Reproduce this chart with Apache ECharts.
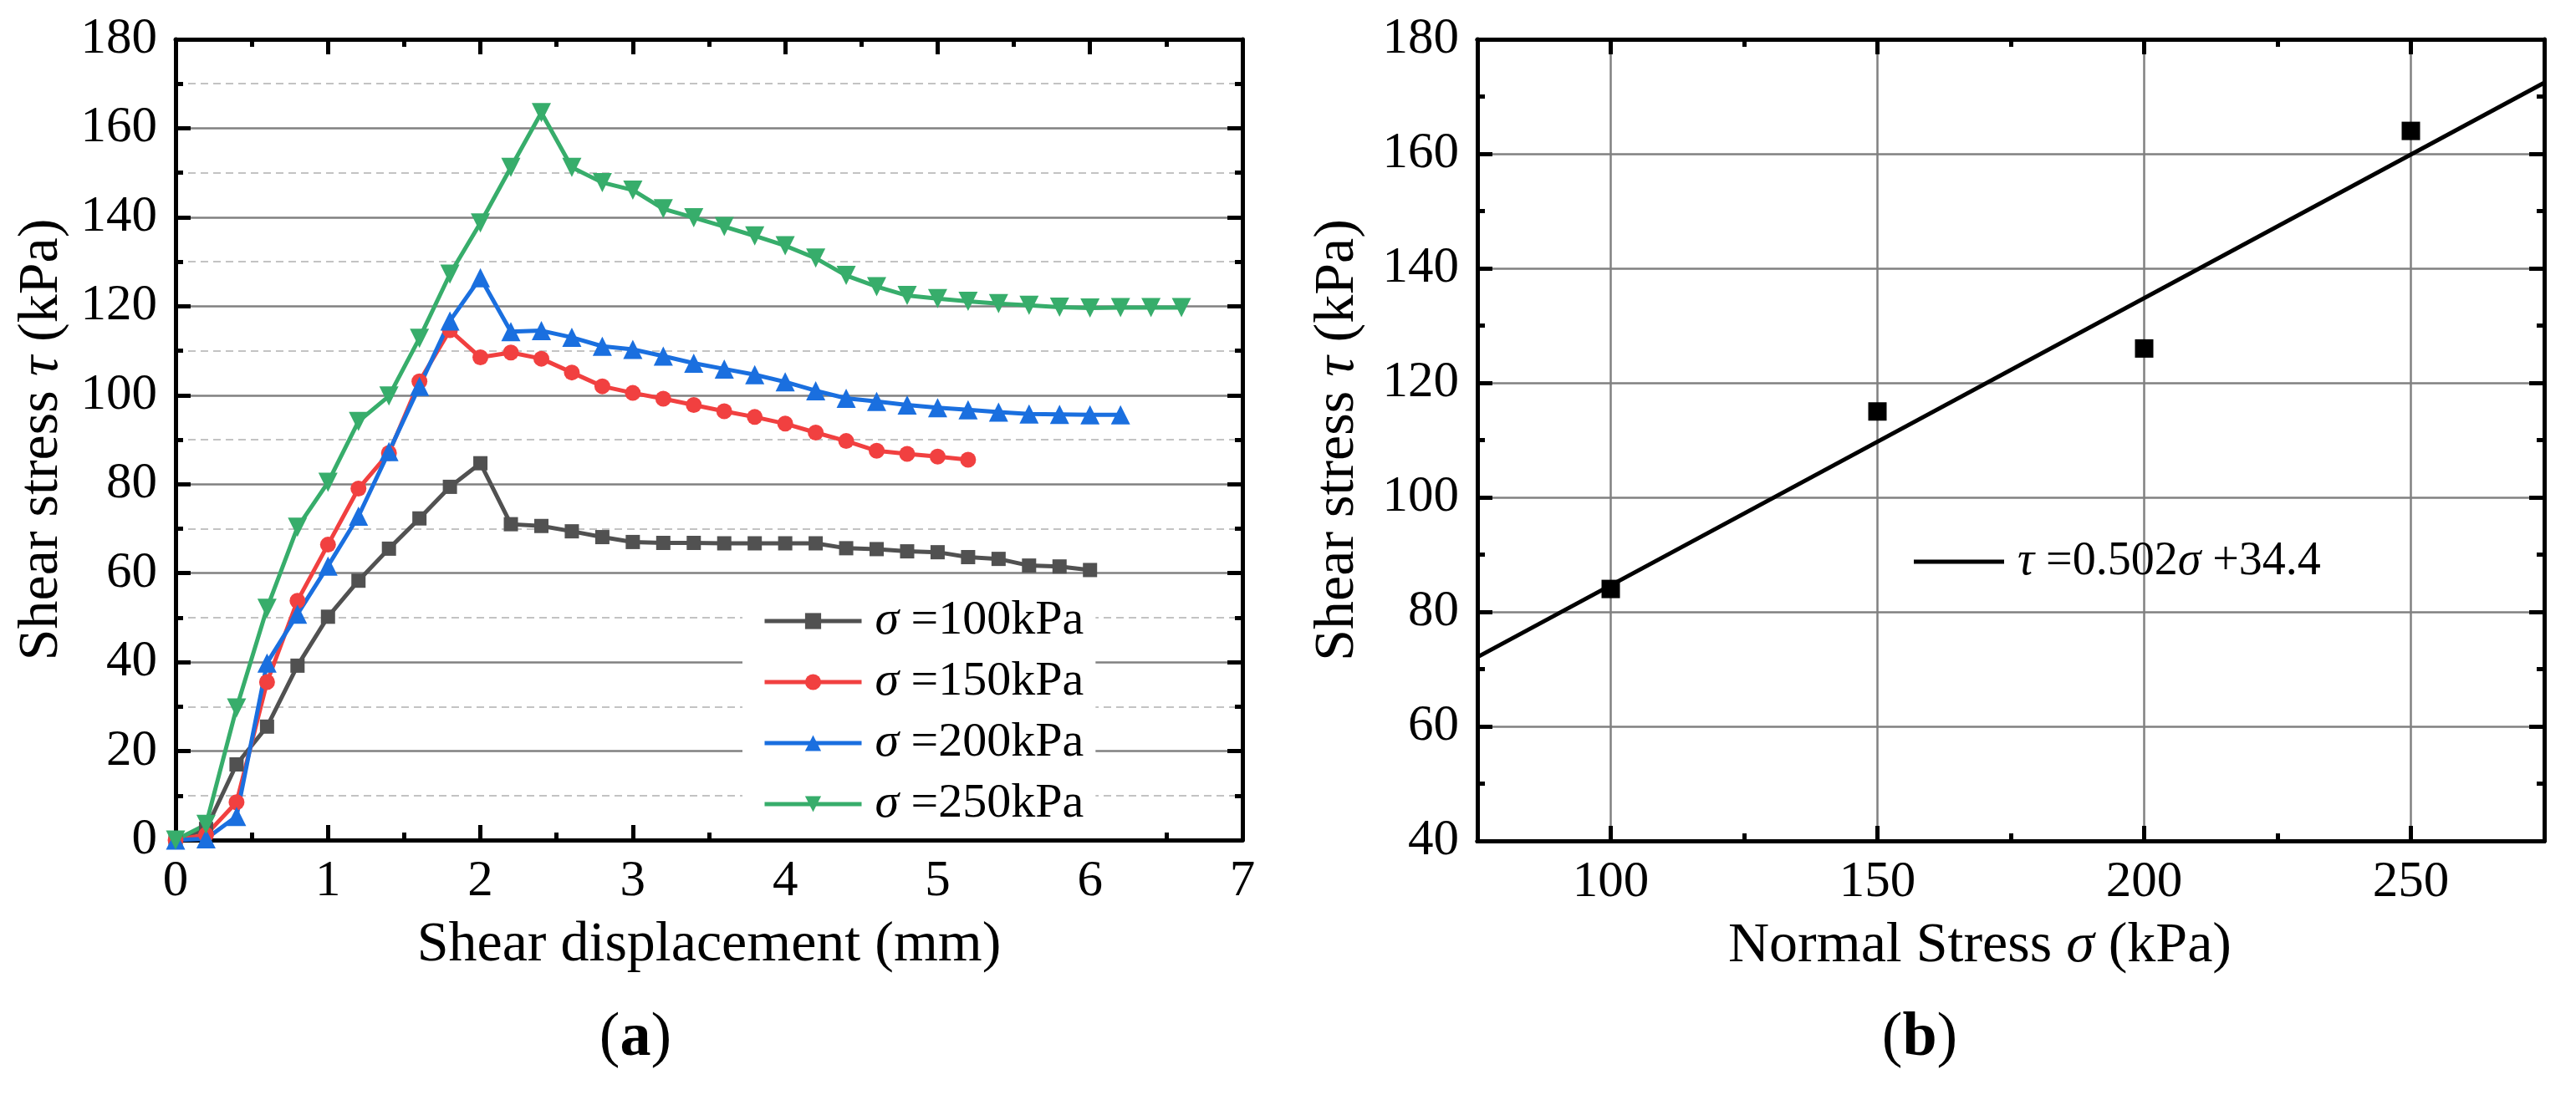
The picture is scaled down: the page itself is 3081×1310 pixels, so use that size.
<!DOCTYPE html>
<html>
<head>
<meta charset="utf-8">
<title>Shear test</title>
<script src="https://cdn.jsdelivr.net/npm/echarts@6.0.0/dist/echarts.min.js"></script>
<style>
  html, body { margin: 0; padding: 0; background: #fff; }
  #main { width: 3081px; height: 1310px; }
</style>
</head>
<body>
<div id="main"></div>
<script>
// shear displacement (mm) at each reading
const displacement = [0, 0.2, 0.4, 0.6, 0.8, 1.0, 1.2, 1.4, 1.6, 1.8, 2.0, 2.2, 2.4, 2.6, 2.8, 3.0, 3.2,
  3.4, 3.6, 3.8, 4.0, 4.2, 4.4, 4.6, 4.8, 5.0, 5.2, 5.4, 5.6, 5.8, 6.0, 6.2, 6.4, 6.6];

// shear stress (kPa) for each normal stress
const stress100 = [0, 2.5, 17, 25.5, 39.2, 50.2, 58.3, 65.5, 72.3, 79.4, 84.7, 71, 70.6, 69.4, 68.1, 67,
  66.8, 66.8, 66.7, 66.7, 66.7, 66.7, 65.6, 65.4, 64.9, 64.7, 63.6, 63.2, 61.7, 61.5, 60.7];
const stress150 = [0, 1.2, 8.5, 35.5, 53.8, 66.4, 79, 87, 103.1, 114.6, 108.5, 109.6, 108.2, 105.1, 102,
  100.5, 99.2, 97.8, 96.4, 95.1, 93.6, 91.6, 89.7, 87.5, 86.8, 86.2, 85.5];
const stress200 = [0, 0.3, 5.3, 39.8, 50.8, 61.6, 72.8, 87.3, 102, 116.7, 126.4, 114.3, 114.5, 113, 111,
  110.3, 108.8, 107.2, 105.9, 104.6, 103, 101, 99.3, 98.6, 97.8, 97.2, 96.7, 96.2, 95.8, 95.7, 95.6, 95.6];
const stress250 = [0, 3.5, 29.7, 52.1, 70.3, 80.4, 94.1, 99.8, 112.8, 127.2, 138.7, 151.2, 163.5, 151.2,
  147.8, 146.1, 141.9, 139.9, 137.9, 135.8, 133.6, 130.8, 126.9, 124.4, 122.4, 121.7, 121.1, 120.6, 120.2,
  119.8, 119.6, 119.7, 119.7, 119.7];

const curveNames = ['σ =100kPa', 'σ =150kPa', 'σ =200kPa', 'σ =250kPa'];
const curveColors = ['#515151', '#F14040', '#1A6FDF', '#37AD6B'];

// peak strength vs normal stress
const normalStress = [100, 150, 200, 250];
const peakStress = [84, 115, 126, 164];
const normalTicks = [100, 150, 200, 250];
// fitted line, read at the two ends of the axis
const fitStress = [75, 275];
const fitShear = [72.1, 172.4];
const fitName = 'τ =0.502σ +34.4';

let main = document.getElementById('main');
let myChart = echarts.init(main);
let option;

const font = '"Liberation Serif", "Times New Roman", "DejaVu Serif", serif';
const black = '#000';
const gridGray = '#808080';

function pairs(xs, ys) {
  return ys.map((y, i) => [xs[i], y]);
}

// first greek letter gets a little lead-in, the rest are just italic
function italicGreek(name) {
  let first = true;
  return name.replace(/([τσ])/g, function (m) {
    const tag = first ? 'h' : 'i';
    first = false;
    return '{' + tag + '|' + m + '}';
  });
}

function richText(size) {
  const it = { fontFamily: font, fontSize: size, fontStyle: 'italic', color: black };
  return {
    color: black, fontFamily: font, fontSize: size, lineHeight: size,
    rich: { i: it, h: Object.assign({ padding: [0, 0, 0, 11] }, it) }
  };
}

const tickLabel = { color: black, fontFamily: font, fontSize: 61 };
const nameStyle = {
  color: black, fontFamily: font, fontSize: 68,
  rich: { i: { fontFamily: font, fontSize: 68, fontStyle: 'italic', color: black } }
};
const axisLine = { show: true, onZero: false, lineStyle: { color: black, width: 5 } };
const tickStyle = { color: black, width: 5 };

// top / right copies of an axis, ticks only
function mirror(grid, position, min, max, interval) {
  return {
    type: 'value', gridIndex: grid, position: position, min: min, max: max, interval: interval,
    axisLine: axisLine,
    axisTick: { show: true, inside: true, length: 18, lineStyle: tickStyle },
    minorTick: { show: true, splitNumber: 2, length: 9, lineStyle: tickStyle },
    axisLabel: { show: false },
    splitLine: { show: false }
  };
}

const symbols = ['rect', 'circle', 'triangle', 'triangle'];
const symbolSizes = [17, 19, 23, 23];
const stresses = [stress100, stress150, stress200, stress250];

const curveSeries = stresses.map((vals, k) => ({
  name: curveNames[k],
  type: 'line',
  xAxisIndex: 0,
  yAxisIndex: 0,
  data: pairs(displacement, vals),
  symbol: symbols[k],
  symbolSize: symbolSizes[k],
  symbolRotate: k === 3 ? 180 : 0,
  showAllSymbol: true,
  color: curveColors[k],
  lineStyle: { color: curveColors[k], width: 5 },
  itemStyle: { color: curveColors[k], opacity: 1 }
}));

option = {
  animation: false,
  backgroundColor: '#fff',
  grid: [
    { left: 210, top: 47, width: 1276, height: 958, outerBoundsMode: 'none' },
    { left: 1767, top: 47, width: 1276, height: 959, outerBoundsMode: 'none' }
  ],
  xAxis: [
    {
      type: 'value', gridIndex: 0, position: 'bottom', min: 0, max: 7, interval: 1,
      name: 'Shear displacement (mm)', nameLocation: 'middle', nameGap: 92, nameTextStyle: nameStyle,
      axisLine: axisLine,
      axisTick: { show: true, inside: true, length: 18, lineStyle: tickStyle },
      minorTick: { show: true, splitNumber: 2, length: 9, lineStyle: tickStyle },
      axisLabel: Object.assign({ margin: 19 }, tickLabel),
      splitLine: { show: false }
    },
    mirror(0, 'top', 0, 7, 1),
    {
      type: 'value', gridIndex: 1, position: 'bottom', min: 75, max: 275, interval: 25,
      name: 'Normal Stress {i|σ} (kPa)', nameLocation: 'middle', nameGap: 92,
      nameTextStyle: Object.assign({ padding: [0, 74, 0, 0] }, nameStyle),
      axisLine: axisLine,
      axisTick: { show: true, inside: true, length: 18, customValues: normalTicks, lineStyle: tickStyle },
      axisLabel: Object.assign({ margin: 19, customValues: normalTicks }, tickLabel),
      splitLine: { show: true, lineStyle: { color: gridGray, width: 2.5 } }
    },
    {
      type: 'value', gridIndex: 1, position: 'bottom', min: 75, max: 275, interval: 25,
      axisLine: axisLine,
      axisTick: { show: true, inside: true, length: 9, lineStyle: tickStyle },
      axisLabel: { show: false },
      splitLine: { show: false }
    },
    {
      type: 'value', gridIndex: 1, position: 'top', min: 75, max: 275, interval: 25,
      axisLine: axisLine,
      axisTick: { show: true, inside: true, length: 18, customValues: normalTicks, lineStyle: tickStyle },
      axisLabel: { show: false },
      splitLine: { show: false }
    },
    {
      type: 'value', gridIndex: 1, position: 'top', min: 75, max: 275, interval: 25,
      axisLine: axisLine,
      axisTick: { show: true, inside: true, length: 9, lineStyle: tickStyle },
      axisLabel: { show: false },
      splitLine: { show: false }
    }
  ],
  yAxis: [
    {
      type: 'value', gridIndex: 0, position: 'left', min: 0, max: 180, interval: 20,
      name: 'Shear stress {i|τ} (kPa)', nameLocation: 'middle', nameGap: 126, nameTextStyle: nameStyle,
      axisLine: axisLine,
      axisTick: { show: true, inside: true, length: 18, lineStyle: tickStyle },
      minorTick: { show: true, splitNumber: 2, length: 9, lineStyle: tickStyle },
      axisLabel: Object.assign({ margin: 22 }, tickLabel),
      splitLine: { show: true, lineStyle: { color: gridGray, width: 2.5 } },
      minorSplitLine: { show: true, lineStyle: { color: '#c3c3c3', width: 2, type: [9, 6] } }
    },
    mirror(0, 'right', 0, 180, 20),
    {
      type: 'value', gridIndex: 1, position: 'left', min: 40, max: 180, interval: 20,
      name: 'Shear stress {i|τ} (kPa)', nameLocation: 'middle', nameGap: 133, nameTextStyle: nameStyle,
      axisLine: axisLine,
      axisTick: { show: true, inside: true, length: 18, lineStyle: tickStyle },
      minorTick: { show: true, splitNumber: 2, length: 9, lineStyle: tickStyle },
      axisLabel: Object.assign({ margin: 22 }, tickLabel),
      splitLine: { show: true, lineStyle: { color: gridGray, width: 2.5 } }
    },
    mirror(1, 'right', 40, 180, 20)
  ],
  legend: [
    {
      data: curveNames,
      orient: 'vertical',
      left: 888,
      top: 700,
      padding: [14, 14, 12, 24],
      backgroundColor: '#fff',
      itemWidth: 116,
      itemHeight: 24,
      itemGap: 15,
      lineStyle: { width: 5 },
      formatter: italicGreek,
      textStyle: richText(58)
    },
    {
      data: [{ name: fitName, icon: 'rect' }],
      left: 2289,
      top: 644,
      padding: 0,
      itemWidth: 108,
      itemHeight: 5,
      formatter: italicGreek,
      textStyle: richText(56)
    }
  ],
  graphic: [
    {
      type: 'text', x: 760, y: 1243,
      style: {
        text: '({b|a})', fill: black, fontFamily: font, fontSize: 74,
        align: 'center', verticalAlign: 'middle', textAlign: 'center', textVerticalAlign: 'middle',
        rich: { b: { fontFamily: font, fontSize: 74, fontWeight: 'bold', fill: black } }
      }
    },
    {
      type: 'text', x: 2296, y: 1243,
      style: {
        text: '({b|b})', fill: black, fontFamily: font, fontSize: 74,
        align: 'center', verticalAlign: 'middle', textAlign: 'center', textVerticalAlign: 'middle',
        rich: { b: { fontFamily: font, fontSize: 74, fontWeight: 'bold', fill: black } }
      }
    }
  ],
  series: curveSeries.concat([
    {
      name: 'peak',
      type: 'scatter',
      xAxisIndex: 2,
      yAxisIndex: 2,
      data: pairs(normalStress, peakStress),
      symbol: 'rect',
      symbolSize: 22,
      itemStyle: { color: black, opacity: 1 },
      z: 3
    },
    {
      name: fitName,
      type: 'line',
      xAxisIndex: 2,
      yAxisIndex: 2,
      data: pairs(fitStress, fitShear),
      symbol: 'none',
      color: black,
      lineStyle: { color: black, width: 5 },
      itemStyle: { color: black }
    }
  ])
};

option && myChart.setOption(option);
</script>
</body>
</html>
